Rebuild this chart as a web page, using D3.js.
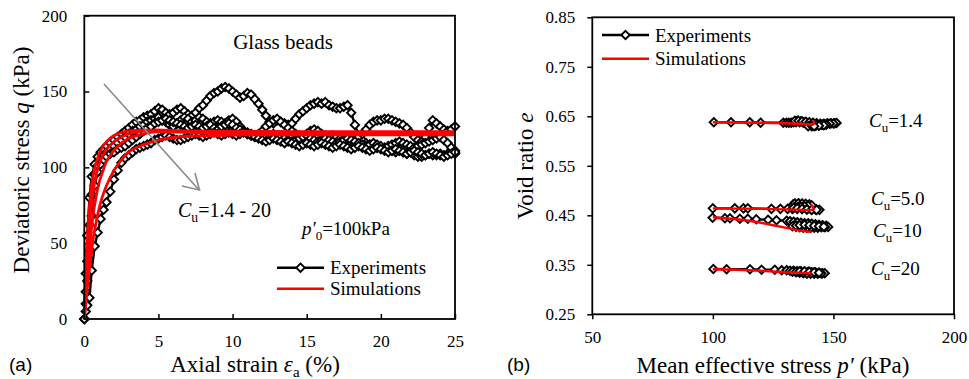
<!DOCTYPE html>
<html>
<head>
<meta charset="utf-8">
<script src="https://cdn.jsdelivr.net/npm/d3@7"></script>
<style>
  html, body { margin: 0; padding: 0; background: #fff; }
  svg { display: block; }
</style>
</head>
<body>
<script>
// ---------- (a) stress–strain data ----------
const strainTicks = [0, 5, 10, 15, 20, 25];
const qTicks = [0, 50, 100, 150, 200];

// axial strain (%) shared by the measured curves
const strain = [
  0, 0.1, 0.2, 0.35, 0.5, 0.7, 0.9, 1.1, 1.3, 1.5, 1.75,
  2, 2.25, 2.5, 2.75, 3, 3.25, 3.5, 3.75, 4, 4.25, 4.5, 4.75,
  5, 5.25, 5.5, 5.75, 6, 6.25, 6.5, 6.75, 7, 7.25, 7.5, 7.75,
  8, 8.25, 8.5, 8.75, 9, 9.25, 9.5, 9.75, 10, 10.25, 10.5, 10.75,
  11, 11.25, 11.5, 11.75, 12, 12.25, 12.5, 12.75, 13, 13.25, 13.5, 13.75,
  14, 14.25, 14.5, 14.75, 15, 15.25, 15.5, 15.75, 16, 16.25, 16.5, 16.75,
  17, 17.25, 17.5, 17.75, 18, 18.25, 18.5, 18.75, 19, 19.25, 19.5, 19.75,
  20, 20.25, 20.5, 20.75, 21, 21.25, 21.5, 21.75, 22, 22.25, 22.5, 22.75,
  23, 23.25, 23.5, 23.75, 24, 24.25, 24.5, 24.75, 25
];

// measured deviatoric stress q (kPa)
const qExpCu14 = [
  0, 30, 55, 80, 94, 102, 107, 110, 112, 114, 116,
  118, 120, 122, 124, 126, 128, 130, 131, 133, 134, 135, 137,
  139, 138, 136, 135, 136, 138, 139, 137, 135, 134, 136, 139,
  141, 144, 147, 149, 150, 152, 153, 152, 150, 148, 146, 147,
  149, 148, 145, 142, 138, 134, 130, 129, 131, 130, 129, 128,
  129, 132, 135, 137, 139, 141, 142, 143, 142, 143, 141, 140,
  139, 139, 140, 141, 136, 128, 121, 118, 116, 115, 114, 113,
  113, 112, 112, 111, 110, 111, 110, 109, 110, 108, 107, 107,
  108, 109, 108, 108, 109, 108, 109, 110, 109
];
const qExpCu5 = [
  0, 18, 38, 62, 82, 95, 101, 105, 108, 110, 112,
  114, 116, 118, 120, 122, 124, 125, 127, 128, 130, 131, 132,
  133, 131, 130, 128, 127, 129, 131, 133, 132, 130, 131, 133,
  132, 130, 129, 130, 131, 130, 129, 131, 132, 130, 127, 124,
  122, 121, 120, 122, 124, 127, 129, 131, 132, 130, 128, 126,
  124, 122, 121, 120, 122, 124, 125, 124, 122, 121, 120, 121,
  120, 119, 118, 117, 116, 118, 120, 122, 125, 128, 130, 131,
  131, 132, 132, 131, 130, 129, 128, 126, 123, 120, 118, 117,
  120, 126, 131, 129, 127, 125, 124, 125, 127
];
const qExpCu10 = [
  0, 10, 25, 45, 68, 88, 97, 102, 105, 107, 109,
  110, 112, 113, 114, 116, 118, 120, 122, 124, 126, 127, 129,
  130, 131, 132, 131, 130, 129, 128, 127, 126, 127, 128, 127,
  126, 127, 128, 126, 125, 127, 128, 129, 128, 126, 125, 124,
  123, 122, 121, 120, 119, 120, 121, 122, 121, 120, 119, 118,
  117, 118, 119, 120, 121, 119, 118, 117, 118, 119, 118, 117,
  116, 117, 118, 119, 118, 117, 116, 115, 114, 115, 116, 115,
  114, 113, 114, 115, 116, 117, 116, 115, 114, 113, 114, 115,
  116, 117, 118, 119, 120, 118, 116, 113, 111
];
const qExpCu20 = [
  0, 5, 9, 14, 32, 48, 57, 66, 72, 77, 84,
  92, 98, 103, 106, 108, 110, 112, 113, 114, 115, 116, 118,
  119, 120, 121, 120, 119, 118, 118, 119, 120, 121, 122, 121,
  120, 121, 122, 123, 122, 121, 122, 123, 122, 121, 122, 123,
  122, 121, 120, 119, 118, 117, 118, 119, 118, 117, 116, 117,
  116, 115, 114, 115, 116, 115, 114, 115, 116, 115, 114, 113,
  114, 115, 114, 113, 112, 113, 114, 113, 112, 111, 112, 113,
  112, 111, 110, 111, 112, 111, 110, 109, 110, 111, 110, 109,
  108, 109, 110, 109, 108, 107, 108, 109, 110
];

// simulated curves share their own strain grid
const simStrain = [0, 0.1, 0.2, 0.3, 0.4, 0.5, 0.6, 0.8, 1.0, 1.2, 1.5, 2, 2.5, 3, 4, 5, 7, 10, 15, 20, 25];
const qSimCu14 = [0, 30, 52, 68, 80, 89, 95, 103, 109, 113, 117, 121, 123, 124, 124.5, 124.5, 124, 123.8, 123.6, 123.6, 123.6];
const qSimCu5  = [0, 22, 40, 55, 67, 77, 84, 95, 102, 107, 112, 117, 120, 122, 124, 124.5, 123.5, 123, 122.8, 122.8, 122.8];
const qSimCu10 = [0, 15, 29, 41, 52, 61, 69, 81, 90, 96, 104, 111, 116, 119, 122, 123.5, 123, 122.2, 122, 122, 122];
const qSimCu20 = [0, 10, 20, 29, 38, 46, 53, 64, 73, 80, 88, 98, 105, 110, 115, 118, 120.5, 121.3, 121.5, 121.5, 121.5];

// ---------- (b) e – p' data ----------
const pTicks = [50, 100, 150, 200];
const eTicks = [0.25, 0.35, 0.45, 0.55, 0.65, 0.75, 0.85];

// measured [p' (kPa), e]
const epExpCu14 = [[100.4,0.638],[107.5,0.638],[115.3,0.638],[119.8,0.637],[129.2,0.637],[130.5,0.637],[131.5,0.637],[132.5,0.637],[133.5,0.638],[134.5,0.638],[136,0.638],[137.5,0.637],[139,0.636],[138,0.638],[136.5,0.640],[135,0.641],[134,0.641],[135.5,0.641],[137,0.640],[138.5,0.639],[140,0.638],[141.5,0.637],[143,0.636],[144.5,0.635],[146,0.635],[147.5,0.636],[149,0.636],[150.5,0.636],[151.3,0.6365],[150,0.6355],[148.5,0.635],[147,0.634],[145.5,0.633],[144,0.632],[142.5,0.631],[141,0.630],[139.5,0.630],[141,0.631],[143,0.632],[145,0.633],[147,0.633],[146,0.632],[144,0.631],[142,0.630]];
const epExpCu5 = [[100,0.464],[109.1,0.464],[112.7,0.464],[114.5,0.464],[124.3,0.463],[128,0.463],[131,0.463],[133,0.463],[135,0.463],[137,0.463],[139,0.462],[141,0.462],[143,0.462],[144.2,0.461],[142.5,0.462],[140.5,0.463],[138.5,0.465],[136.5,0.467],[134.5,0.469],[133.3,0.472],[134,0.474],[135.5,0.4745],[137,0.474],[138.5,0.473],[140,0.472],[141,0.470],[139.5,0.469],[138,0.468],[136.5,0.467],[135,0.466],[133.5,0.465],[135,0.464],[137,0.463],[139,0.462],[141,0.461],[143,0.461]];
const epExpCu10 = [[99.9,0.445],[105,0.444],[107.1,0.444],[111.2,0.443],[114.5,0.443],[118,0.442],[122.9,0.441],[126.4,0.440],[130.6,0.439],[132,0.438],[133.5,0.437],[135,0.436],[136.5,0.435],[138,0.434],[139.5,0.434],[141,0.433],[142.5,0.432],[144,0.431],[145.5,0.430],[147,0.429],[147.8,0.4265],[146.5,0.426],[145,0.426],[143.5,0.425],[142,0.425],[140.5,0.425],[139,0.425],[137.5,0.425],[136,0.426],[134.5,0.427],[133,0.428],[134.5,0.429],[136,0.430],[138,0.431],[140,0.430],[142,0.429],[144,0.428],[146,0.427]];
const epExpCu20 = [[100.2,0.3415],[105.7,0.341],[115.4,0.341],[120.2,0.340],[125.7,0.340],[128.5,0.339],[130.6,0.339],[132,0.338],[133.5,0.338],[135,0.337],[136.5,0.337],[138,0.336],[139.5,0.336],[141,0.335],[142.5,0.335],[144,0.334],[145.5,0.333],[146.4,0.333],[145,0.3325],[143.5,0.332],[142,0.332],[140.5,0.332],[139,0.332],[137.5,0.333],[136,0.334],[134.5,0.335],[133,0.336],[134.5,0.336],[136,0.337],[138,0.337],[140,0.336],[142,0.335],[144,0.334]];

// simulated [p' (kPa), e]
const epSimCu14 = [[100,0.638],[110,0.6375],[120,0.637],[130,0.636],[136,0.635],[140,0.634],[141.5,0.633],[142,0.636],[141.8,0.640],[141.5,0.642]];
const epSimCu5  = [[100,0.464],[110,0.4635],[120,0.463],[130,0.462],[137,0.461],[140.5,0.4605],[141.8,0.462],[141.5,0.467],[140.5,0.472]];
const epSimCu10 = [[100,0.446],[105,0.444],[110,0.442],[115,0.439],[120,0.435],[125,0.430],[130,0.425],[135,0.420],[141,0.416]];
const epSimCu20 = [[100,0.341],[110,0.340],[120,0.338],[130,0.335],[136,0.334],[141,0.333]];

const cuNames = ["1.4", "5.0", "10", "20"];

// ---------- drawing ----------
const W = 969, H = 379;
const SERIF = '"Liberation Serif", "Times New Roman", serif';
const SANS = '"Liberation Sans", Arial, sans-serif';
const RED = "#ff0000";

const svg = d3.select("body").append("svg")
  .attr("width", W).attr("height", H)
  .attr("viewBox", `0 0 ${W} ${H}`);
svg.append("rect").attr("width", W).attr("height", H).attr("fill", "#fff");

const diamond = "M0,-4.2L4.2,0L0,4.2L-4.2,0Z";

function drawDiamonds(g, pts) {
  g.selectAll(null).data(pts).enter().append("path")
    .attr("d", diamond)
    .attr("transform", d => `translate(${d[0]},${d[1]})`)
    .attr("fill", "#fff").attr("stroke", "#000").attr("stroke-width", 1.9);
}

function styleAxis(g) {
  g.select(".domain").remove();
  g.selectAll(".tick line").attr("stroke", "#000").attr("stroke-width", 1.5);
  g.selectAll(".tick text").style("font-family", SERIF).style("font-size", "17px").attr("fill", "#000");
}

// ===== panel (a) =====
const xA = d3.scaleLinear().domain([0, 25]).range([84.3, 455]);
const yA = d3.scaleLinear().domain([0, 200]).range([319, 15.7]);
const gA = svg.append("g");

gA.append("g").attr("transform", `translate(0,${yA(0)})`)
  .call(d3.axisBottom(xA).tickValues(strainTicks).tickSizeInner(-5).tickSizeOuter(0).tickPadding(16))
  .call(styleAxis);
gA.append("g").attr("transform", `translate(${xA(0)},0)`)
  .call(d3.axisLeft(yA).tickValues(qTicks).tickSizeInner(-5).tickSizeOuter(0).tickPadding(17))
  .call(styleAxis);

const lineA = d3.line().x(d => xA(d[0])).y(d => yA(d[1]));
const simLineA = d3.line().x(d => xA(d[0])).y(d => yA(d[1])).curve(d3.curveMonotoneX);
const expA = [qExpCu14, qExpCu5, qExpCu10, qExpCu20].map(qs => qs.map((q, i) => [strain[i], q]));
const simA = [qSimCu14, qSimCu5, qSimCu10, qSimCu20].map(qs => qs.map((q, i) => [simStrain[i], q]));

expA.forEach(s => {
  gA.append("path").datum(s).attr("d", lineA)
    .attr("fill", "none").attr("stroke", "#000").attr("stroke-width", 2.4);
});
expA.forEach(s => drawDiamonds(gA, s.map(d => [xA(d[0]), yA(d[1])])));
simA.forEach(s => {
  gA.append("path").datum(s).attr("d", simLineA)
    .attr("fill", "none").attr("stroke", RED).attr("stroke-width", 2.8);
});

gA.append("rect")
  .attr("x", xA(0)).attr("y", yA(200))
  .attr("width", xA(25) - xA(0)).attr("height", yA(0) - yA(200))
  .attr("fill", "none").attr("stroke", "#000").attr("stroke-width", 1.8);

// trend arrow
const arrow = gA.append("g").attr("stroke", "#8a8a8a").attr("stroke-width", 1.6).attr("fill", "none");
arrow.append("line").attr("x1", 104).attr("y1", 84).attr("x2", 199).attr("y2", 190);
arrow.append("polyline").attr("points", "195,173 199.5,190 182,186");

function serifText(g, x, y, size) {
  return g.append("text").attr("x", x).attr("y", y)
    .style("font-family", SERIF).style("font-size", size + "px").attr("fill", "#000");
}

serifText(gA, 283, 49, 21).attr("text-anchor", "middle").text("Glass beads");

function cuText(g, x, y, value, size) {
  const t = serifText(g, x, y, size);
  t.append("tspan").style("font-style", "italic").text("C");
  t.append("tspan").style("font-size", (size * 0.68) + "px").attr("dy", 5).text("u");
  t.append("tspan").attr("dy", -5).text("=" + value);
  return t;
}
cuText(gA, 178, 217, "1.4 - 20", 20);

const pLabel = serifText(gA, 302, 235, 19);
pLabel.append("tspan").style("font-style", "italic").text("p\u2032");
pLabel.append("tspan").style("font-size", "13px").attr("dy", 5).text("0");
pLabel.append("tspan").attr("dy", -5).text("=100kPa");

function legend(g, x0, x1, yExp, ySim, tx, size) {
  g.append("line").attr("x1", x0).attr("x2", x1).attr("y1", yExp).attr("y2", yExp)
    .attr("stroke", "#000").attr("stroke-width", 2.6);
  drawDiamonds(g, [[(x0 + x1) / 2, yExp]]);
  g.append("line").attr("x1", x0).attr("x2", x1).attr("y1", ySim).attr("y2", ySim)
    .attr("stroke", RED).attr("stroke-width", 2.6);
  serifText(g, tx, yExp + 6.5, size).text("Experiments");
  serifText(g, tx, ySim + 6.5, size).text("Simulations");
}
legend(gA, 277, 324, 267.7, 288.7, 330, 19);

const yTitleA = serifText(gA, 0, 0, 23)
  .attr("transform", "translate(29,160) rotate(-90)")
  .attr("text-anchor", "middle");
yTitleA.append("tspan").text("Deviatoric stress ");
yTitleA.append("tspan").style("font-style", "italic").text("q");
yTitleA.append("tspan").text(" (kPa)");

const xTitleA = serifText(gA, 255, 372, 23).attr("text-anchor", "middle");
xTitleA.append("tspan").text("Axial strain ");
xTitleA.append("tspan").style("font-style", "italic").text("\u03b5");
xTitleA.append("tspan").style("font-size", "15px").attr("dy", 5).text("a");
xTitleA.append("tspan").attr("dy", -5).text(" (%)");

svg.append("text").attr("x", 9).attr("y", 371)
  .style("font-family", SANS).style("font-size", "19px").text("(a)");

// ===== panel (b) =====
const xB = d3.scaleLinear().domain([50, 200]).range([592.3, 954]);
const yB = d3.scaleLinear().domain([0.25, 0.85]).range([314.3, 17.3]);
const gB = svg.append("g");

gB.append("g").attr("transform", `translate(0,${yB(0.25)})`)
  .call(d3.axisBottom(xB).tickValues(pTicks).tickSizeInner(5).tickSizeOuter(0).tickPadding(12))
  .call(styleAxis);
gB.append("g").attr("transform", `translate(${xB(50)},0)`)
  .call(d3.axisLeft(yB).tickValues(eTicks).tickFormat(d3.format(".2f")).tickSizeInner(5).tickSizeOuter(0).tickPadding(12))
  .call(styleAxis);

const lineB = d3.line().x(d => xB(d[0])).y(d => yB(d[1]));
const expB = [epExpCu14, epExpCu5, epExpCu10, epExpCu20];
const simB = [epSimCu14, epSimCu5, epSimCu10, epSimCu20];

expB.forEach(s => {
  gB.append("path").datum(s).attr("d", lineB)
    .attr("fill", "none").attr("stroke", "#000").attr("stroke-width", 2.4);
});
expB.forEach(s => drawDiamonds(gB, s.map(d => [xB(d[0]), yB(d[1])])));
simB.forEach(s => {
  gB.append("path").datum(s).attr("d", lineB)
    .attr("fill", "none").attr("stroke", RED).attr("stroke-width", 2.4)
    .attr("stroke-linejoin", "round");
});

gB.append("rect")
  .attr("x", xB(50)).attr("y", yB(0.85))
  .attr("width", xB(200) - xB(50)).attr("height", yB(0.25) - yB(0.85))
  .attr("fill", "none").attr("stroke", "#000").attr("stroke-width", 1.8);

legend(gB, 602, 649, 35, 58.7, 655, 19);

const cuPos = [[869, 127], [871, 205], [873, 236.7], [871, 275]];
cuNames.forEach((v, i) => cuText(gB, cuPos[i][0], cuPos[i][1], v, 19));

const yTitleB = serifText(gB, 0, 0, 23)
  .attr("transform", "translate(533,166) rotate(-90)")
  .attr("text-anchor", "middle");
yTitleB.append("tspan").text("Void ratio ");
yTitleB.append("tspan").style("font-style", "italic").text("e");

const xTitleB = serifText(gB, 773, 373, 23).attr("text-anchor", "middle");
xTitleB.append("tspan").text("Mean effective stress ");
xTitleB.append("tspan").style("font-style", "italic").text("p\u2032");
xTitleB.append("tspan").text(" (kPa)");

svg.append("text").attr("x", 507).attr("y", 371)
  .style("font-family", SANS).style("font-size", "19px").text("(b)");
</script>
</body>
</html>
